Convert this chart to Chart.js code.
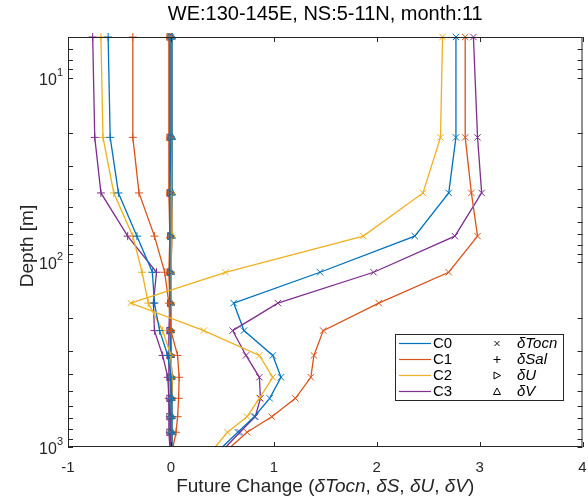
<!DOCTYPE html>
<html>
<head>
<meta charset="utf-8">
<script src="https://cdn.jsdelivr.net/npm/chart.js@4.4.1/dist/chart.umd.min.js"></script>
<style>
  body { margin: 0; background: #fff; }
  canvas { display: block; }
</style>
</head>
<body>
<canvas id="myChart" width="588" height="497"></canvas>
<script>
// depth levels [m]
var depths = [6, 21, 42, 72, 113, 166, 234, 319, 419, 545, 685, 832, 1000];

// future change of ocean temperature
var tocnC0 = [2.77, 2.77, 2.70, 2.37, 1.45, 0.61, 0.71, 0.99, 1.07, 0.96, 0.81, 0.65, 0.50];
var tocnC1 = [2.86, 2.86, 2.92, 2.98, 2.70, 2.02, 1.48, 1.39, 1.36, 1.21, 0.98, 0.74, 0.58];
var tocnC2 = [2.64, 2.62, 2.45, 1.87, 0.53, -0.39, 0.32, 0.86, 0.99, 0.86, 0.74, 0.55, 0.43];
var tocnC3 = [2.94, 2.98, 3.02, 2.76, 1.97, 1.04, 0.60, 0.73, 0.86, 0.87, 0.82, 0.67, 0.535];

// future change of salinity
var salC0 = [-0.61, -0.59, -0.51, -0.33, -0.18, -0.16, -0.11, -0.03, 0.0, 0.01, 0.01, 0.01, 0.01];
var salC1 = [-0.37, -0.37, -0.31, -0.16, -0.06, -0.02, 0.0, 0.065, 0.08, 0.075, 0.065, 0.05, 0.02];
var salC2 = [-0.68, -0.66, -0.555, -0.37, -0.28, -0.22, -0.08, 0.0, 0.01, 0.01, 0.01, 0.01, 0.01];
var salC3 = [-0.76, -0.74, -0.68, -0.42, -0.14, -0.17, -0.16, -0.08, -0.03, -0.02, -0.01, -0.01, 0.0];

// future change of zonal / meridional current
var uC0 = [0.0, 0.0, -0.01, -0.01, -0.01, -0.01, -0.01, 0.0, 0.0, 0.0, 0.0, 0.0, 0.0];
var uC1 = [-0.02, -0.02, -0.02, -0.01, -0.02, -0.01, 0.0, 0.0, 0.01, 0.01, 0.0, 0.0, 0.0];
var uC2 = [0.0, 0.0, 0.0, 0.0, 0.0, 0.0, 0.0, 0.0, 0.0, 0.0, 0.0, 0.0, 0.0];
var uC3 = [-0.01, -0.01, -0.01, -0.01, -0.01, -0.01, -0.02, -0.02, -0.02, -0.02, -0.02, -0.02, -0.01];
var vC0 = [0.01, 0.01, 0.01, 0.0, 0.0, 0.0, 0.0, 0.0, 0.01, 0.01, 0.01, 0.01, 0.01];
var vC1 = [-0.01, -0.01, -0.01, -0.01, -0.01, 0.0, 0.0, 0.0, 0.0, 0.0, 0.0, 0.0, 0.0];
var vC2 = [0.01, 0.01, 0.01, 0.01, 0.0, 0.0, 0.0, 0.0, 0.0, 0.0, 0.0, 0.0, 0.0];
var vC3 = [0.01, 0.01, 0.01, 0.01, 0.0, 0.0, 0.0, 0.0, 0.0, 0.0, 0.0, 0.01, 0.01];

var configs = ['C0', 'C1', 'C2', 'C3'];
var colors = ['#0072BD', '#D95319', '#EDB120', '#7E2F8E'];
var varNames = ['\u03B4Tocn', '\u03B4Sal', '\u03B4U', '\u03B4V'];
var xTicks = [-1, 0, 1, 2, 3, 4];

var series = [
    [tocnC0, tocnC1, tocnC2, tocnC3],
    [salC0, salC1, salC2, salC3],
    [uC0, uC1, uC2, uC3],
    [vC0, vC1, vC2, vC3]
];
var styles = [
    { pointStyle: 'crossRot', rotation: 0, radius: 4.5 },
    { pointStyle: 'cross', rotation: 0, radius: 4 },
    { pointStyle: 'triangle', rotation: 90, radius: 4 },
    { pointStyle: 'triangle', rotation: 0, radius: 4 }
];

var datasets = [];
for (var v = 0; v < 4; v++) {
    for (var c = 0; c < 4; c++) {
        var pts = series[v][c].map(function (x, i) { return { x: x, y: depths[i] }; });
        datasets.push({
            label: configs[c] + ' ' + varNames[v],
            data: pts,
            showLine: true,
            borderColor: colors[c],
            borderWidth: 1.3,
            pointStyle: styles[v].pointStyle,
            pointRotation: styles[v].rotation,
            pointRadius: (function (r) {
                return function (ctx) { return ctx.dataIndex === depths.length - 1 ? 0 : r; };
            })(styles[v].radius),
            pointBorderColor: colors[c],
            pointBackgroundColor: 'rgba(0,0,0,0)',
            pointBorderWidth: 1,
            clip: false
        });
    }
}

var FONT = '"Liberation Sans", Arial, sans-serif';
var AX = '#262626';

function drawMarker(ctx, style, x, y) {
    ctx.beginPath();
    if (style === 0) {
        ctx.moveTo(x - 2.5, y - 2.5); ctx.lineTo(x + 2.5, y + 2.5);
        ctx.moveTo(x - 2.5, y + 2.5); ctx.lineTo(x + 2.5, y - 2.5);
    } else if (style === 1) {
        ctx.moveTo(x - 3.5, y); ctx.lineTo(x + 3.5, y);
        ctx.moveTo(x, y - 3.5); ctx.lineTo(x, y + 3.5);
    } else if (style === 2) {
        ctx.moveTo(x - 3, y - 3.5); ctx.lineTo(x + 3.5, y); ctx.lineTo(x - 3, y + 3.5); ctx.closePath();
    } else {
        ctx.moveTo(x, y - 3.5); ctx.lineTo(x + 3.5, y + 3); ctx.lineTo(x - 3.5, y + 3); ctx.closePath();
    }
    ctx.stroke();
}

var decor = {
    id: 'decor',
    afterDraw: function (chart) {
        var ctx = chart.ctx;
        var a = chart.chartArea;
        var xs = chart.scales.x, ys = chart.scales.y;
        ctx.save();
        ctx.strokeStyle = AX;
        ctx.lineWidth = 1;
        ctx.strokeRect(a.left + 0.5, a.top + 0.5, a.right - a.left - 1, a.bottom - a.top - 1);

        // inward ticks
        ctx.beginPath();
        xTicks.forEach(function (t) {
            var px = Math.round(xs.getPixelForValue(t)) + 0.5;
            ctx.moveTo(px, a.bottom); ctx.lineTo(px, a.bottom - 5);
            ctx.moveTo(px, a.top); ctx.lineTo(px, a.top + 5);
        });
        for (var d = 0; d < 4; d++) {
            for (var m = 1; m < 10; m++) {
                var val = m * Math.pow(10, d);
                if (val < 6 || val > 1000) continue;
                var py = Math.round(ys.getPixelForValue(val)) + 0.5;
                ctx.moveTo(a.left, py); ctx.lineTo(a.left + 5, py);
                ctx.moveTo(a.right, py); ctx.lineTo(a.right - 5, py);
            }
        }
        ctx.stroke();

        // y tick labels 10^n
        ctx.fillStyle = AX;
        ctx.textBaseline = 'alphabetic';
        [1, 2, 3].forEach(function (e) {
            var py = ys.getPixelForValue(Math.pow(10, e));
            ctx.font = '11px ' + FONT;
            var ew = ctx.measureText(String(e)).width;
            ctx.textAlign = 'right';
            ctx.fillText(String(e), a.left - 5, py - 2);
            ctx.font = '16px ' + FONT;
            ctx.fillText('10', a.left - 5 - ew, py + 7);
        });

        // title
        ctx.font = '20px ' + FONT;
        ctx.textAlign = 'center';
        ctx.textBaseline = 'middle';
        ctx.fillStyle = '#000';
        ctx.fillText('WE:130-145E, NS:5-11N, month:11', (a.left + a.right) / 2, 14);

        // x axis title with italic parts
        var parts = [
            ['Future Change (', false], ['\u03B4Tocn', true], [', ', false], ['\u03B4S', true],
            [', ', false], ['\u03B4U', true], [', ', false], ['\u03B4V', true], [')', false]
        ];
        var total = 0;
        parts.forEach(function (p) {
            ctx.font = (p[1] ? 'italic ' : '') + '19px ' + FONT;
            p.push(ctx.measureText(p[0]).width);
            total += p[2];
        });
        var x0 = (a.left + a.right) / 2 - total / 2;
        ctx.textAlign = 'left';
        ctx.fillStyle = AX;
        parts.forEach(function (p) {
            ctx.font = (p[1] ? 'italic ' : '') + '19px ' + FONT;
            ctx.fillText(p[0], x0, 487);
            x0 += p[2];
        });

        // y axis title
        ctx.save();
        ctx.translate(28, (a.top + a.bottom) / 2 + 4);
        ctx.rotate(-Math.PI / 2);
        ctx.textAlign = 'center';
        ctx.font = '19px ' + FONT;
        ctx.fillText('Depth [m]', 0, 0);
        ctx.restore();

        // legend
        var lx = 395, ly = 334, lw = 168, lh = 66;
        ctx.fillStyle = '#fff';
        ctx.fillRect(lx, ly, lw, lh);
        ctx.strokeStyle = AX;
        ctx.lineWidth = 1;
        ctx.strokeRect(lx + 0.5, ly + 0.5, lw, lh);
        ctx.textBaseline = 'middle';
        for (var i = 0; i < 4; i++) {
            var ry = ly + 9.5 + i * 16;
            ctx.strokeStyle = colors[i];
            ctx.lineWidth = 1.2;
            ctx.beginPath();
            ctx.moveTo(lx + 4, ry); ctx.lineTo(lx + 36, ry);
            ctx.stroke();
            ctx.fillStyle = '#000';
            ctx.font = '15px ' + FONT;
            ctx.textAlign = 'left';
            ctx.fillText(configs[i], lx + 38, ry);
            ctx.strokeStyle = '#000';
            ctx.lineWidth = 1;
            drawMarker(ctx, i, lx + 102, ry);
            ctx.font = 'italic 15px ' + FONT;
            ctx.fillText(varNames[i], lx + 122, ry);
        }
        ctx.restore();
    }
};

var ctx = document.getElementById('myChart').getContext('2d');
var myChart = new Chart(ctx, {
    type: 'scatter',
    data: { datasets: datasets },
    options: {
        responsive: false,
        animation: false,
        devicePixelRatio: 1,
        layout: { padding: { top: 37, right: 2, left: 0, bottom: 0 } },
        plugins: {
            legend: { display: false },
            tooltip: { enabled: false }
        },
        scales: {
            x: {
                type: 'linear',
                min: -1,
                max: 4,
                afterBuildTicks: function (scale) {
                    scale.ticks = xTicks.map(function (t) { return { value: t }; });
                },
                afterFit: function (scale) {
                    scale.height = 50;
                    scale.paddingLeft = 0;
                    scale.paddingRight = 0;
                },
                grid: { display: false },
                border: { display: false },
                ticks: {
                    color: AX,
                    padding: 4,
                    font: { family: 'Liberation Sans', size: 15 }
                }
            },
            y: {
                type: 'logarithmic',
                reverse: true,
                min: 6,
                max: 1000,
                afterFit: function (scale) { scale.width = 68; },
                grid: { display: false },
                border: { display: false },
                ticks: { display: false }
            }
        }
    },
    plugins: [decor]
});
</script>
</body>
</html>
